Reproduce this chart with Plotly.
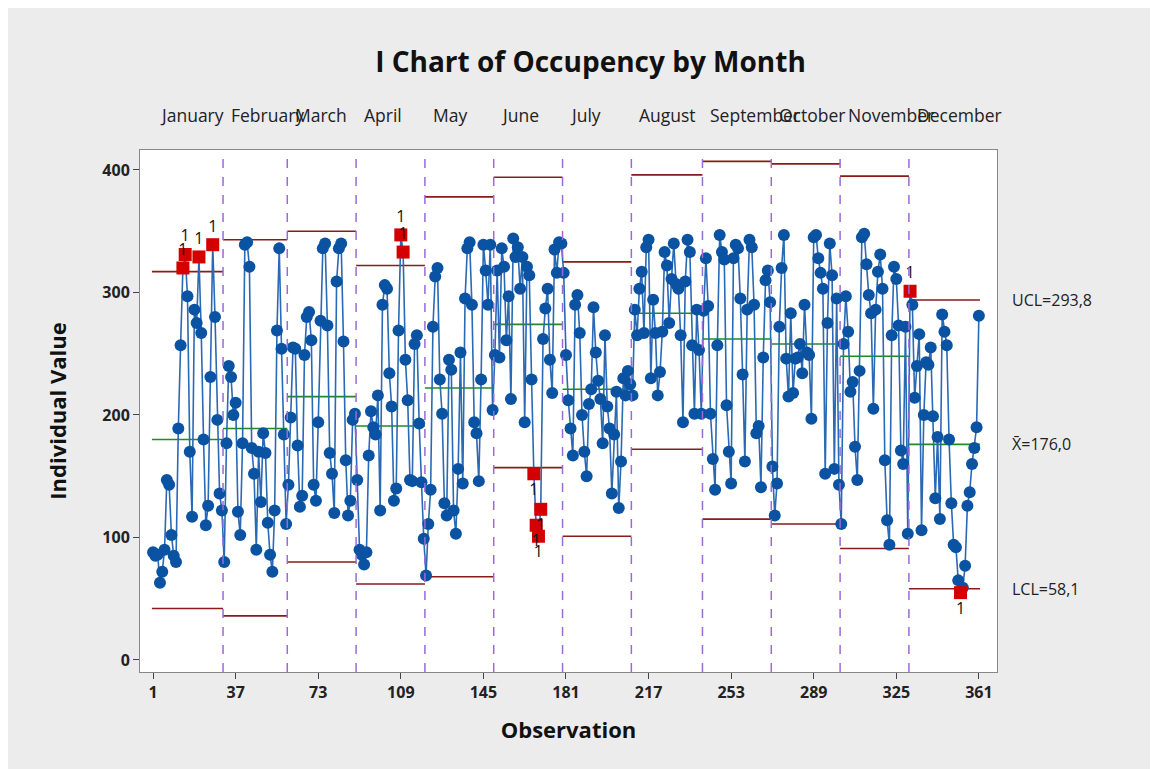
import plotly.graph_objects as go

months = ["January", "February", "March", "April", "May", "June", "July",
          "August", "September", "October", "November", "December"]

# control limits read per month (stage)
center = [180, 189, 215, 191, 222, 274, 221, 283, 262, 258, 248, 176.0]
ucl = [317, 343, 350, 322, 378, 394, 325, 396, 407, 405, 395, 293.8]
lcl = [42, 36, 80, 62, 68, 157, 101, 172, 115, 111, 91, 58.1]

jan = [88, 85, 86, 63, 72, 90, 147, 143, 102, 85, 80, 189, 257, 320, 331, 297,
       170, 117, 286, 275, 329, 267, 180, 110, 126, 231, 339, 280, 196, 136, 122]
feb = [80, 177, 240, 231, 200, 210, 121, 102, 177, 339, 341, 321, 173, 152, 90,
       170, 129, 185, 169, 112, 86, 72, 122, 269, 336, 254, 184, 111]
mar = [143, 198, 255, 254, 175, 125, 134, 249, 280, 284, 261, 143, 130, 194, 277,
       336, 340, 273, 169, 152, 120, 309, 336, 340, 260, 163, 118, 130, 196, 201]
apr = [147, 90, 86, 78, 88, 167, 203, 190, 184, 216, 122, 290, 306, 303, 234,
       207, 130, 140, 269, 347, 333, 245, 212, 147, 146, 258, 265, 193, 145, 99]
may = [69, 111, 139, 272, 313, 320, 229, 201, 128, 118, 245, 237, 122, 103, 156,
       251, 144, 295, 336, 341, 290, 194, 185, 146, 229, 339, 318, 290, 339, 204]
jun = [249, 318, 247, 336, 321, 261, 297, 213, 344, 329, 337, 303, 329, 194, 321,
       314, 229, 152, 110, 101, 123, 262, 287, 303, 245, 218, 335, 316, 341, 340]
jul = [316, 249, 212, 189, 167, 290, 298, 267, 200, 170, 150, 209, 221, 288, 251,
       228, 213, 177, 265, 207, 189, 136, 184, 219, 124, 162, 230, 216, 236, 225]
aug = [216, 286, 265, 303, 317, 267, 337, 343, 230, 294, 267, 216, 235, 268, 333,
       322, 275, 311, 340, 307, 303, 265, 194, 309, 343, 333, 257, 201, 286, 253, 201]
sep = [285, 328, 289, 201, 164, 139, 257, 347, 333, 327, 208, 170, 144, 328, 339,
       336, 295, 233, 162, 286, 343, 337, 290, 185, 191, 141, 247, 310, 318, 292]
octo = [158, 118, 144, 272, 320, 347, 246, 215, 283, 218, 246, 247, 258, 234, 290,
        251, 249, 197, 345, 347, 328, 316, 303, 152, 275, 340, 314, 156, 295, 143]
nov = [111, 258, 297, 268, 219, 227, 174, 147, 236, 345, 348, 323, 298, 283, 205,
       286, 317, 331, 303, 163, 114, 94, 265, 321, 311, 273, 171, 160, 272, 103]
dec = [301, 290, 214, 240, 266, 106, 200, 243, 241, 255, 199, 132, 182, 115, 282,
       268, 257, 180, 128, 94, 92, 65, 55, 59, 77, 126, 137, 160, 173, 190, 281]

by_month = [jan, feb, mar, apr, may, jun, jul, aug, sep, octo, nov, dec]
xticks = [1, 37, 73, 109, 145, 181, 217, 253, 289, 325, 361]

values, obs, stage = [], [], []
starts, ends = [], []
n = 0
for m, vals in enumerate(by_month):
    starts.append(n + 1)
    for v in vals:
        n += 1
        values.append(v)
        obs.append(n)
        stage.append(m)
    ends.append(n)

fig = go.Figure()

# limit and center lines per month
def seg(levels):
    xs, ys = [], []
    for m in range(len(months)):
        xs += [starts[m] - 0.5, ends[m] + 0.5, None]
        ys += [levels[m], levels[m], None]
    return xs, ys

for levels, col in [(ucl, "#8b1a1a"), (lcl, "#8b1a1a"), (center, "#1e8c1e")]:
    xs, ys = seg(levels)
    fig.add_trace(go.Scatter(x=xs, y=ys, mode="lines",
                             line=dict(color=col, width=1.6),
                             hoverinfo="skip", showlegend=False))

fig.add_trace(go.Scatter(
    x=obs, y=values, mode="lines+markers",
    line=dict(color="#2a69b4", width=1.6),
    marker=dict(symbol="circle", size=12, color="#0a52a2"),
    showlegend=False))

# out of control points (test 1)
hx, hy, lx, ly = [], [], [], []
for i, v in enumerate(values):
    m = stage[i]
    if v > ucl[m]:
        hx.append(obs[i]); hy.append(v)
    elif v < lcl[m]:
        lx.append(obs[i]); ly.append(v)

fig.add_trace(go.Scatter(
    x=hx, y=hy, mode="markers+text", text=["1"] * len(hx),
    textposition="top center", textfont=dict(size=16, color="#111"),
    marker=dict(symbol="square", size=13, color="#d40000"), showlegend=False))
fig.add_trace(go.Scatter(
    x=lx, y=ly, mode="markers+text", text=["1"] * len(lx),
    textposition="bottom center", textfont=dict(size=16, color="#111"),
    marker=dict(symbol="square", size=13, color="#d40000"), showlegend=False))

shapes = []
for m in range(1, len(months)):
    b = starts[m] - 0.5
    shapes.append(dict(type="line", xref="x", yref="paper", x0=b, x1=b, y0=0, y1=1,
                       line=dict(color="#9a6ad8", width=1.5, dash="dash")))

annotations = []
for m, name in enumerate(months):
    annotations.append(dict(x=starts[m] + 2, y=1.0, xref="x", yref="paper",
                            text=name, showarrow=False, xanchor="left", yanchor="bottom",
                            yshift=21, font=dict(size=17.5, color="#222")))

for label, val in [("UCL", ucl[-1]), ("X\u0304", center[-1]), ("LCL", lcl[-1])]:
    txt = f"{label}={val:.1f}".replace(".", ",")
    annotations.append(dict(x=1.015, y=val, xref="paper", yref="y", text=txt,
                            showarrow=False, xanchor="left", yanchor="middle",
                            font=dict(size=16, color="#222")))

tick_font = dict(size=16, color="#222", family="Open Sans", weight="bold")

fig.update_layout(
    width=1158, height=769,
    paper_bgcolor="#ececec", plot_bgcolor="white",
    font=dict(family="Open Sans, Noto Sans, sans-serif", color="#222"),
    margin=dict(l=132, r=169, t=142, b=105),
    title=dict(text="<b>I Chart of Occupency by Month</b>", x=0.503, xanchor="center",
               y=0.93, yanchor="middle", font=dict(size=28, color="#111")),
    shapes=shapes, annotations=annotations,
    xaxis=dict(range=[-4.7, 368.9], tickvals=xticks, ticks="outside", ticklen=6,
               showgrid=False, zeroline=False, showline=True, mirror=True,
               linecolor="#888", tickcolor="#444", tickfont=tick_font,
               title=dict(text="<b>Observation</b>", font=dict(size=22, color="#111"),
                          standoff=20)),
    yaxis=dict(range=[-9.8, 416.3], tickvals=[0, 100, 200, 300, 400], ticks="outside",
               ticklen=6, showgrid=False, zeroline=False, showline=True, mirror=True,
               linecolor="#888", tickcolor="#444", tickfont=tick_font,
               title=dict(text="<b>Individual Value</b>", font=dict(size=22, color="#111"),
                          standoff=29)),
)

fig.write_html("out.html")
